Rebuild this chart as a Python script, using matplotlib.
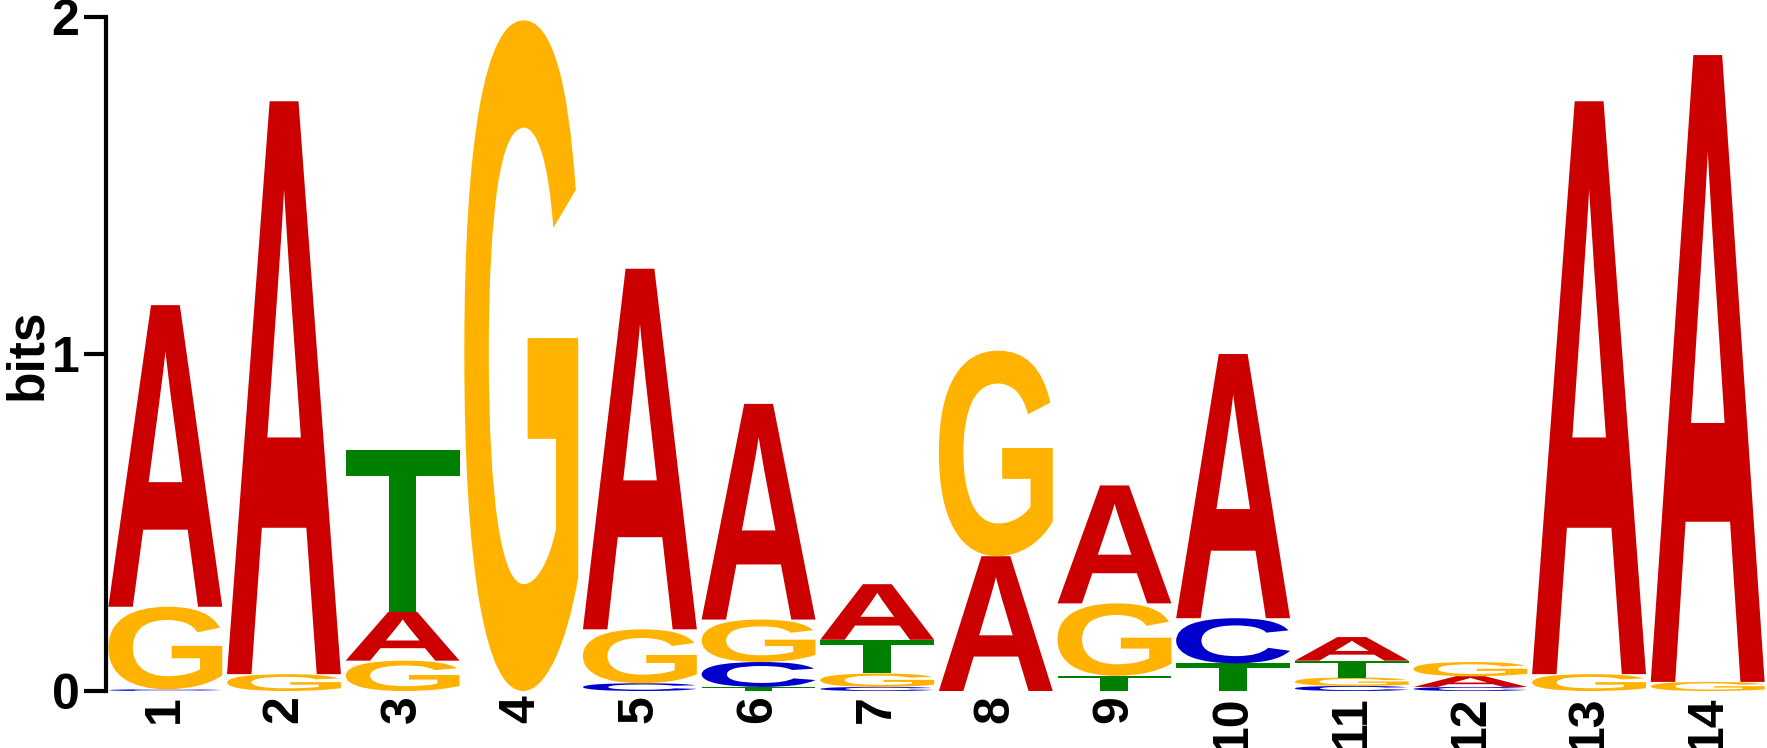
import matplotlib
matplotlib.use('Agg')
import matplotlib.pyplot as plt
from matplotlib.textpath import TextPath
from matplotlib.patches import PathPatch
from matplotlib.font_manager import FontProperties
from matplotlib.transforms import Affine2D

# information content (bits) per base at each position
positions = list(range(1, 15))
A_bits = [0.895, 1.70, 0.145, 0.0, 1.07, 0.64, 0.165, 0.40, 0.35, 0.784, 0.07, 0.032, 1.70, 1.86]
C_bits = [0.005, 0.0, 0.0, 0.0, 0.023, 0.074, 0.012, 0.0, 0.0, 0.134, 0.015, 0.012, 0.0, 0.0]
G_bits = [0.245, 0.05, 0.09, 1.99, 0.16, 0.126, 0.04, 0.61, 0.215, 0.0, 0.025, 0.042, 0.05, 0.027]
T_bits = [0.0, 0.0, 0.48, 0.0, 0.0, 0.012, 0.10, 0.0, 0.045, 0.082, 0.05, 0.0, 0.0, 0.0]

colors = {'A': '#CC0000', 'C': '#0000CC', 'G': '#FFB300', 'T': '#008000'}
glyph_font = FontProperties(family='Liberation Sans', weight='bold')


def draw_letter(ax, letter, x, y0, h, width=0.96):
    tp = TextPath((0, 0), letter, size=1, prop=glyph_font)
    bb = tp.get_extents()
    tr = (Affine2D()
          .translate(-bb.x0, -bb.y0)
          .scale(width / bb.width, h / bb.height)
          .translate(x - width / 2, y0))
    path = tr.transform_path(tp)
    ax.add_patch(PathPatch(path, facecolor=colors[letter], edgecolor='none',
                           lw=0, clip_on=False))


fig = plt.figure(figsize=(17.67, 7.48), dpi=100)
ax = fig.add_axes([106 / 1767, 57 / 748, 1661 / 1767, 674 / 748])

# stack letters smallest at the bottom
for i, pos in enumerate(positions):
    stack = [('A', A_bits[i]), ('C', C_bits[i]), ('G', G_bits[i]), ('T', T_bits[i])]
    stack = sorted([s for s in stack if s[1] > 0], key=lambda s: s[1])
    y = 0.0
    for letter, h in stack:
        draw_letter(ax, letter, pos, y, h)
        y += h

ax.set_xlim(0.5, 14.5)
ax.set_ylim(0, 2)

for side in ['top', 'right', 'bottom']:
    ax.spines[side].set_visible(False)
ax.spines['left'].set_linewidth(3)
ax.spines['left'].set_bounds(0, 2)

ax.set_yticks([0, 1, 2])
ax.set_yticklabels(['0', '1', '2'], fontsize=36, fontweight='bold', family='Liberation Sans')
ax.tick_params(axis='y', length=16, width=3, pad=3)

ax.set_xticks(positions)
ax.set_xticklabels([str(p) for p in positions], rotation=90, fontsize=36,
                   fontweight='bold', family='Liberation Sans')
ax.tick_params(axis='x', length=0, pad=3)

ax.set_ylabel('bits', fontsize=37, fontweight='bold', family='Liberation Sans', labelpad=0)

fig.savefig('out.png', dpi=100)
